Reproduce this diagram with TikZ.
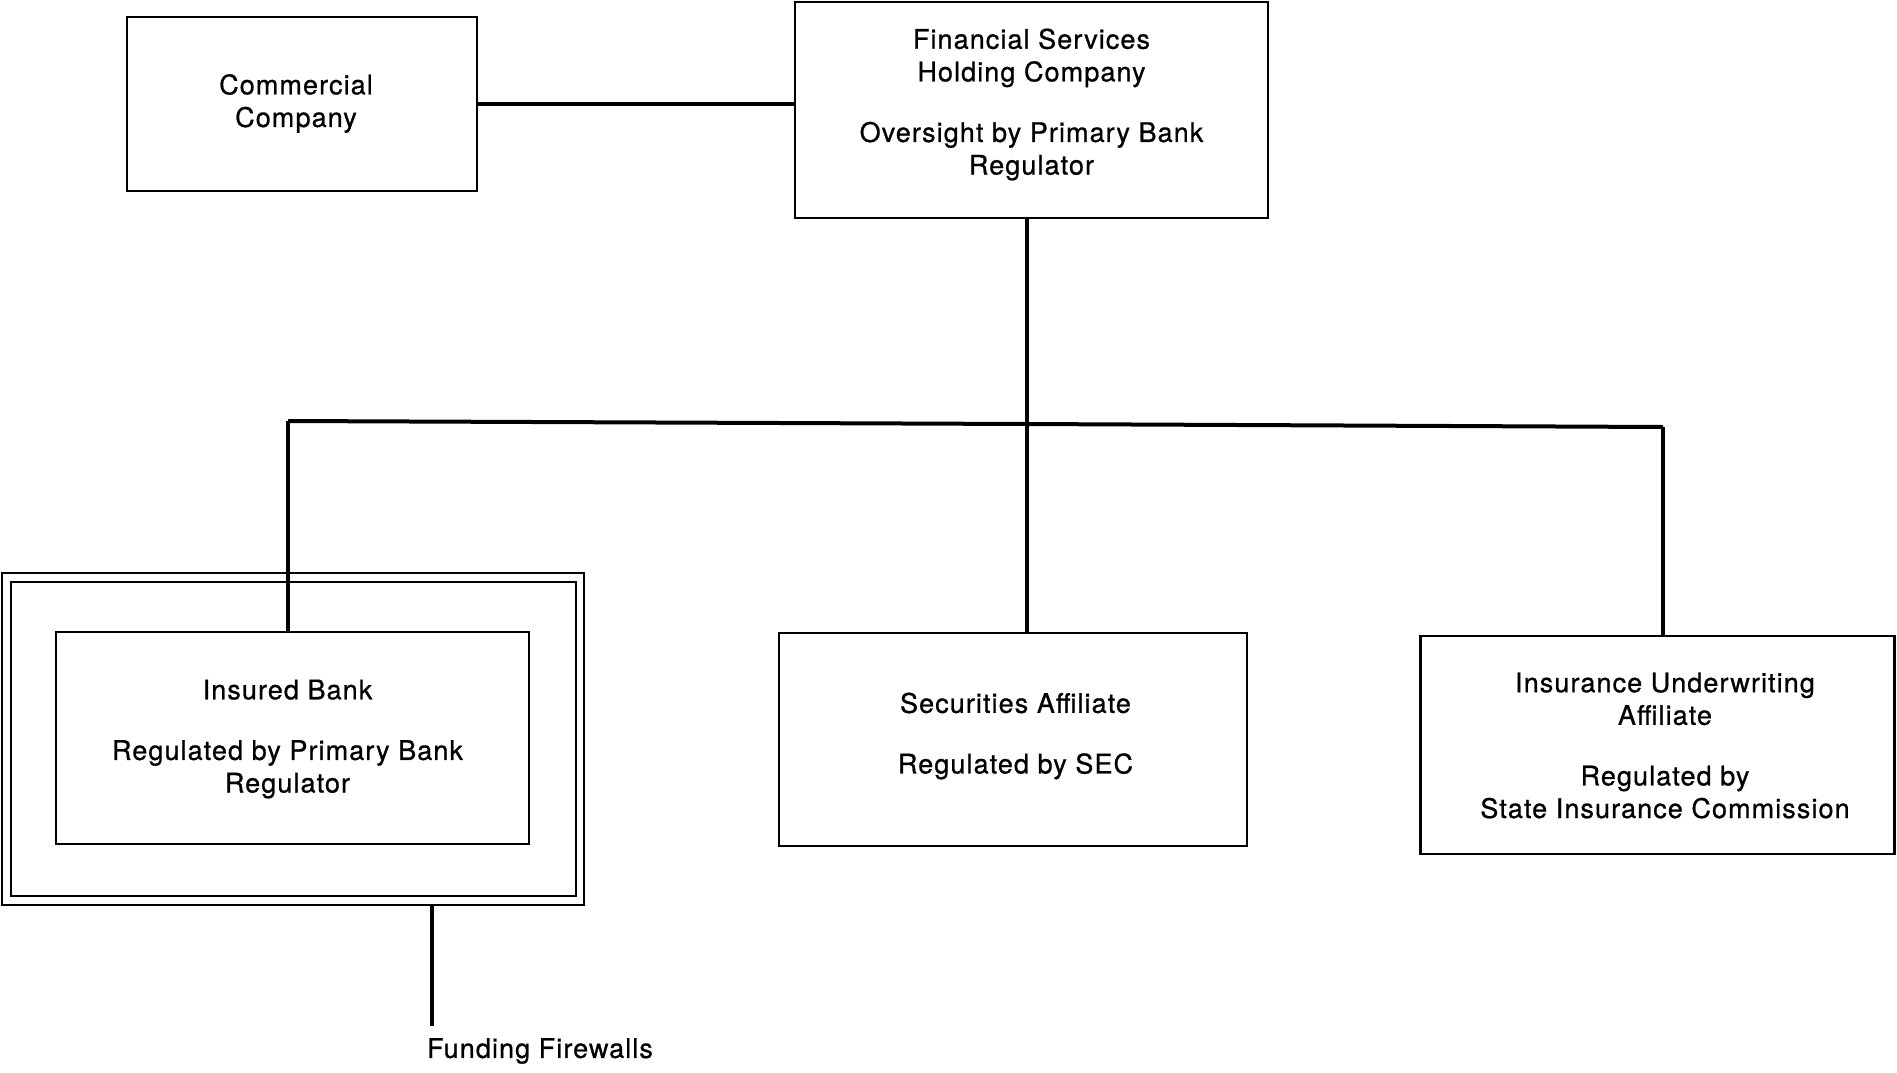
\documentclass[tikz,border=0pt]{standalone}
\usepackage{fontspec}
\setmainfont[LetterSpace=4,FakeBold=0.8]{TeX Gyre Heros}
\tikzset{
  box/.style={draw, line width=1.2pt, inner sep=0pt},
  txt/.style={align=center, inner sep=0pt, font=\fontsize{13.5}{16.3}\selectfont},
  conn/.style={line width=2pt},
  thinline/.style={draw, line width=0.7pt, inner sep=0pt},
  lbl/.style={font=\fontsize{13.5}{16.3}\selectfont, inner sep=0pt}
}
\begin{document}
\begin{tikzpicture}[x=0.5pt,y=-0.5pt]
\useasboundingbox (0,0) rectangle (1897,1072);
% boxes
\node[box, minimum width=175pt, minimum height=87pt] (cc) at (302,104) {};
\node[txt] (cct) at (296,103.5) {Commercial\\Company};
\node[box, minimum width=236.5pt, minimum height=108pt] (fs) at (1031.5,110) {};
\node[txt] (fst) at (1031.5,104.5)
  {Financial Services\\Holding Company\\[14pt]Oversight by Primary Bank\\Regulator};
\node[thinline, minimum width=291pt, minimum height=166pt] (fw) at (293,739) {};
\node[thinline, minimum width=282.5pt, minimum height=157pt] (fwi) at (293.5,739) {};
\node[box, minimum width=236.5pt, minimum height=106pt] (bank) at (292.5,738) {};
\node[txt] (bankt) at (287.5,739)
  {Insured Bank\\[14pt]Regulated by Primary Bank\\Regulator};
\node[box, minimum width=234pt, minimum height=106.5pt] (sec) at (1013,739.5) {};
\node[txt] (sect) at (1015.5,736)
  {Securities Affiliate\\[14pt]Regulated by SEC};
\node[box, minimum width=237pt, minimum height=109pt] (ins) at (1657.5,745) {};
\node[txt] (inst) at (1665,745.5)
  {Insurance Underwriting\\Affiliate\\[14pt]Regulated by\\State Insurance Commission};
\node[lbl] (ffl) at (540,1051) {Funding Firewalls};
% coordinates
\coordinate (bl) at (288,421);
\coordinate (bm) at (1027,424);
\coordinate (br) at (1663,427);
\coordinate (ff) at (432,1026);
% connectors
\draw[conn] (cc.east) -- (cc.east -| fs.west);
\draw[conn] (bm |- fs.south) -- (bm);
\draw[conn, line join=miter] (bl) -- (bm) -- (br);
\draw[conn] (bl) -- (bl |- bank.north);
\draw[conn] (bm) -- (bm |- sec.north);
\draw[conn] (br) -- (br |- ins.north);
\draw[conn] (ff |- fw.south) -- (ff);
\end{tikzpicture}
\end{document}
